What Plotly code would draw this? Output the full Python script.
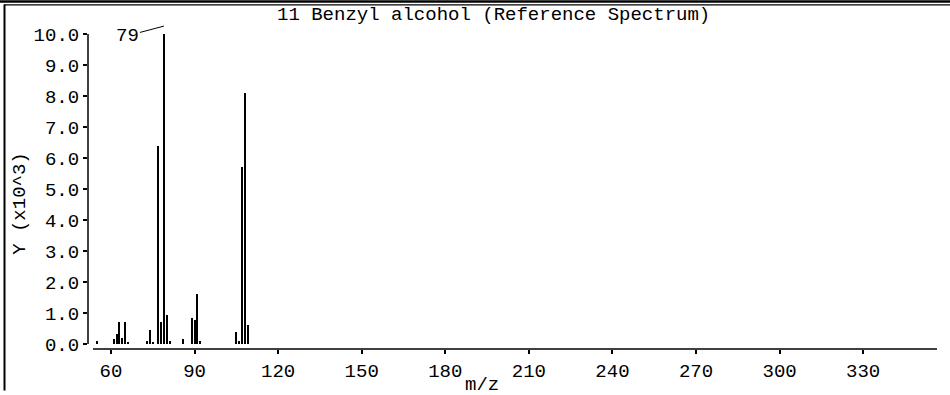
import plotly.graph_objects as go

# EI mass spectrum of benzyl alcohol: m/z and intensity (x10^3 counts)
mz = [55, 61, 62, 63, 64, 65, 66, 73, 74, 75, 77, 78, 79, 80, 81,
      86, 89, 90, 91, 92, 105, 106, 107, 108, 109]
intensity = [0.10, 0.17, 0.33, 0.72, 0.18, 0.72, 0.08, 0.10, 0.46, 0.08, 6.40, 0.72, 10.00, 0.95, 0.10,
             0.17, 0.84, 0.78, 1.63, 0.10, 0.40, 0.10, 5.70, 8.10, 0.62]

x_ticks = [60, 90, 120, 150, 180, 210, 240, 270, 300, 330]
y_ticks = [0, 1, 2, 3, 4, 5, 6, 7, 8, 9, 10]

title_text = "11 Benzyl alcohol (Reference Spectrum)"
x_label = "m/z"
y_label = "Y (x10^3)"
peak_label = "79"

W, H = 950, 395
ML, MR, MT, MB = 88, 13, 34, 42
PW, PH = W - ML - MR, H - MT - MB
X_RANGE = [51.74, 356.5]
Y_RANGE = [-0.159, 10.0]

FONT = "Liberation Mono, DejaVu Sans Mono, monospace"
FS = 19


def px_x(p):
    return (p - ML) / PW


def px_y(p):
    return (H - MB - p) / PH


fig = go.Figure()
fig.add_trace(go.Bar(
    x=mz, y=intensity, width=0.72,
    marker=dict(color="black", line=dict(width=0)),
    hoverinfo="x+y", showlegend=False,
))

shapes = [
    # y axis line, from 0 to the top tick
    dict(type="line", xref="paper", yref="y", x0=0, x1=0, y0=0, y1=10,
         line=dict(color="black", width=1.5)),
    # x axis line, slightly below the zero baseline
    dict(type="line", xref="paper", yref="paper", x0=px_x(93), x1=1, y0=0, y1=0,
         line=dict(color="black", width=1.5)),
    # frame: double rule at top, rule at left
    dict(type="line", xref="paper", yref="paper", x0=px_x(0), x1=px_x(W), y0=px_y(1), y1=px_y(1),
         line=dict(color="black", width=2.5)),
    dict(type="line", xref="paper", yref="paper", x0=px_x(4), x1=px_x(W), y0=px_y(4.5), y1=px_y(4.5),
         line=dict(color="black", width=1.2)),
    dict(type="line", xref="paper", yref="paper", x0=px_x(4.5), x1=px_x(4.5), y0=px_y(4), y1=px_y(H),
         line=dict(color="black", width=2)),
]

annotations = [
    dict(text=title_text, xref="paper", yref="paper", x=px_x(493), y=px_y(15),
         xanchor="center", yanchor="middle", showarrow=False,
         font=dict(family=FONT, size=FS, color="black")),
    dict(text=x_label, xref="paper", yref="paper", x=px_x(482), y=px_y(389),
         xanchor="center", yanchor="middle", showarrow=False,
         font=dict(family=FONT, size=FS, color="black")),
    dict(text=y_label, xref="paper", yref="paper", x=px_x(20), y=px_y(206),
         xanchor="center", yanchor="middle", showarrow=False, textangle=-90,
         font=dict(family=FONT, size=FS, color="black")),
    dict(text=peak_label, xref="x", yref="paper", x=79, y=px_y(26),
         ax=-36, ay=9.5, showarrow=True, arrowhead=0, arrowwidth=1,
         arrowcolor="black", standoff=0, borderpad=0,
         font=dict(family=FONT, size=FS, color="black")),
]

fig.update_layout(
    width=W, height=H,
    margin=dict(l=ML, r=MR, t=MT, b=MB, pad=0),
    paper_bgcolor="white", plot_bgcolor="white",
    bargap=0,
    shapes=shapes,
    annotations=annotations,
    xaxis=dict(
        range=X_RANGE, tickvals=x_ticks, ticktext=[str(v) for v in x_ticks],
        ticks="outside", ticklen=4, tickwidth=1.5, tickcolor="black",
        showline=False, showgrid=False, zeroline=False,
        tickfont=dict(family=FONT, size=FS, color="black"),
    ),
    yaxis=dict(
        range=Y_RANGE, tickvals=y_ticks, ticktext=[f"{v:.1f}" for v in y_ticks],
        ticks="outside", ticklen=4, tickwidth=1.5, tickcolor="black",
        showline=False, showgrid=False, zeroline=False,
        tickfont=dict(family=FONT, size=FS, color="black"),
    ),
)

fig.write_html("out.html")
